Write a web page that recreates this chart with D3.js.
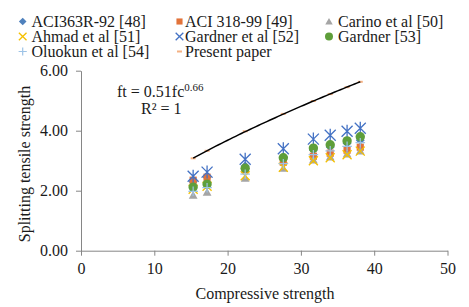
<!DOCTYPE html>
<html><head><meta charset="utf-8">
<script src="https://cdn.jsdelivr.net/npm/d3@7"></script>
</head><body style="margin:0;background:#fff">
<svg id="c" width="469" height="307" font-family="Liberation Serif"></svg>
<script>
const fc = [15.3, 17.2, 22.4, 27.6, 31.7, 34.0, 36.3, 38.1];
const aci363 = [2.30, 2.45, 2.82, 3.12, 3.36, 3.46, 3.58, 3.68];
const aci318 = [2.35, 2.45, 2.70, 2.95, 3.15, 3.25, 3.35, 3.45];
const carino = [1.85, 1.95, 2.42, 2.75, 3.03, 3.13, 3.23, 3.33];
const ahmad = [2.05, 2.15, 2.50, 2.78, 3.00, 3.10, 3.20, 3.32];
const gardnerEtAl = [2.48, 2.62, 3.05, 3.40, 3.72, 3.85, 3.98, 4.08];
const gardner = [2.12, 2.22, 2.75, 3.10, 3.42, 3.53, 3.66, 3.80];
const oluokun = [1.98, 2.10, 2.55, 2.90, 3.20, 3.33, 3.48, 3.60];
const present = [3.08, 3.33, 3.98, 4.56, 4.99, 5.22, 5.45, 5.63];
const xTicks = [0, 10, 20, 30, 40, 50];
const yTicks = [0, 2, 4, 6];

const series = [
  {name: "ACI363R-92 [48]", v: aci363, shape: "diamond", color: "#4F81BD"},
  {name: "ACI 318-99 [49]", v: aci318, shape: "square", color: "#E2733A"},
  {name: "Carino et al [50]", v: carino, shape: "triangle", color: "#A5A5A5"},
  {name: "Ahmad et al [51]", v: ahmad, shape: "x", color: "#F5C000"},
  {name: "Gardner et al [52]", v: gardnerEtAl, shape: "star", color: "#4472C4"},
  {name: "Gardner [53]", v: gardner, shape: "circle", color: "#5E9E3A"},
  {name: "Oluokun et al [54]", v: oluokun, shape: "plus", color: "#9DC3E6"},
  {name: "Present paper", v: present, shape: "dash", color: "#F4B183"}
];

const FS = 16;
const svg = d3.select("#c");
const x = d3.scaleLinear().domain([0, 50]).range([81, 447.5]);
const y = d3.scaleLinear().domain([0, 6]).range([250.7, 70.7]);
const axisColor = "#868686";
const txt = "#1a1a1a";

function addText(parent, str, xx, yy, anchor) {
  return parent.append("text").attr("x", xx).attr("y", yy)
    .attr("font-family", "Liberation Serif").attr("font-size", FS).attr("fill", txt)
    .attr("text-anchor", anchor || "start").text(str);
}

function marker(g, shape, color, s) {
  s = s || 1;
  if (shape === "diamond") g.append("path").attr("d", `M0,${-4.5*s}L${4.5*s},0L0,${4.5*s}L${-4.5*s},0Z`).attr("fill", color);
  else if (shape === "square") g.append("rect").attr("x", -3.6*s).attr("y", -3.6*s).attr("width", 7.2*s).attr("height", 7.2*s).attr("fill", color);
  else if (shape === "triangle") g.append("path").attr("d", `M0,${-4.2*s}L${4.4*s},${3.6*s}L${-4.4*s},${3.6*s}Z`).attr("fill", color);
  else if (shape === "x") g.append("path").attr("d", `M${-4.5*s},${-4.5*s}L${4.5*s},${4.5*s}M${-4.5*s},${4.5*s}L${4.5*s},${-4.5*s}`).attr("stroke", color).attr("stroke-width", 1.3).attr("fill", "none");
  else if (shape === "star") g.append("path").attr("d", `M${-5.5*s},${-5.5*s}L${5.5*s},${5.5*s}M${-5.5*s},${5.5*s}L${5.5*s},${-5.5*s}M0,${-6.5*s}L0,${6.5*s}`).attr("stroke", color).attr("stroke-width", 1.3).attr("fill", "none");
  else if (shape === "circle") g.append("circle").attr("r", 4.7*s).attr("fill", color);
  else if (shape === "plus") g.append("path").attr("d", `M${-4.8*s},0L${4.8*s},0M0,${-4.8*s}L0,${4.8*s}`).attr("stroke", color).attr("stroke-width", 1.2).attr("fill", "none");
  else if (shape === "dash") g.append("rect").attr("x", -2.5).attr("y", -1).attr("width", 5).attr("height", 2).attr("fill", color);
}

// axes (lines and ticks from d3 axis; labels added as plain texts)
const yAxis = d3.axisLeft(y).tickValues(yTicks).tickFormat(d3.format(".2f")).tickSize(5).tickSizeOuter(0).tickPadding(8);
const gy = svg.append("g").attr("transform", `translate(${x(0)},0)`).call(yAxis);
const xAxis = d3.axisBottom(x).tickValues(xTicks).tickFormat(d3.format("d")).tickSize(5).tickSizeOuter(0).tickPadding(7);
const gx = svg.append("g").attr("transform", `translate(0,${y(0)})`).call(xAxis);
[gx, gy].forEach(g => {
  g.attr("font-family", "Liberation Serif").attr("font-size", FS);
  g.selectAll("path,line").attr("stroke", axisColor);
  g.selectAll("text").attr("font-family", "Liberation Serif").attr("font-size", FS).attr("fill", txt);
});

// series
series.forEach(s => {
  const g = svg.append("g");
  s.v.forEach((v, i) => {
    const m = g.append("g").attr("transform", `translate(${x(fc[i])},${y(v)})`);
    marker(m, s.shape, s.color);
  });
});

// power trendline fitted to present paper
const lx = fc.map(Math.log), ly = present.map(Math.log);
const mx = d3.mean(lx), my = d3.mean(ly);
const b = d3.sum(lx.map((v, i) => (v - mx) * (ly[i] - my))) / d3.sum(lx.map(v => (v - mx) ** 2));
const a = Math.exp(my - b * mx);
const xs = d3.range(60).map(i => fc[0] + (fc[fc.length - 1] - fc[0]) * i / 59);
svg.append("path").attr("d", d3.line().x(d => x(d)).y(d => y(a * Math.pow(d, b)))(xs))
  .attr("fill", "none").attr("stroke", "#000").attr("stroke-width", 1.5);

// equation
const eq = addText(svg, "", 117, 97);
eq.append("tspan").text("ft = 0.51fc");
eq.append("tspan").attr("dy", -6).attr("font-size", 11).text("0.66");
addText(svg, "R² = 1", 141, 114);

// axis titles
addText(svg, "Compressive strength", 265, 299, "middle");
addText(svg.append("g").attr("transform", "translate(30,164) rotate(-90)"), "Splitting tensile strength", 0, 0, "middle");

// legend
const colX = [22.7, 179.5, 329];
const txX = [31.5, 185, 338];
const rowY = [21.5, 36.5, 51.5];
series.forEach((s, i) => {
  const c = i % 3, r = Math.floor(i / 3);
  const m = svg.append("g").attr("transform", `translate(${colX[c]},${rowY[r]})`);
  marker(m, s.shape === "star" ? "x" : s.shape, s.color, 0.85);
  addText(svg, s.name, txX[c], rowY[r] + 5.5);
});
</script>
</body></html>
